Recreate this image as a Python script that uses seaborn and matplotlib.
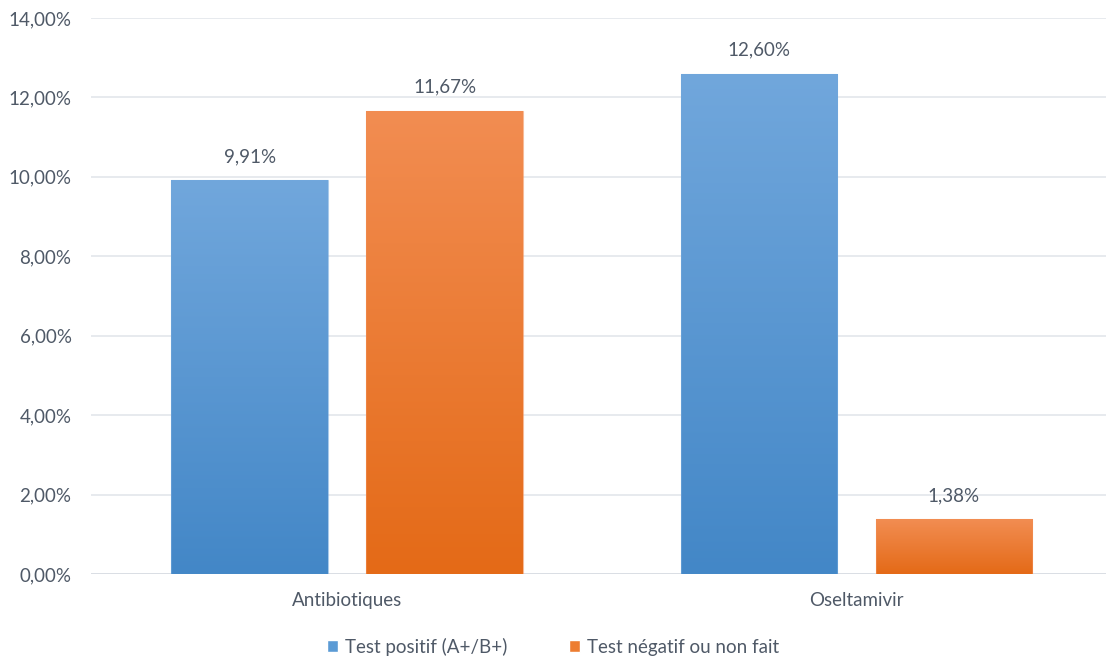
import numpy as np
import pandas as pd
import matplotlib
matplotlib.use("Agg")
import matplotlib.pyplot as plt
import matplotlib.colors as mcolors
from matplotlib.patches import Patch
import seaborn as sns

categories = ["Antibiotiques", "Oseltamivir"]
series = ["Test positif (A+/B+)", "Test négatif ou non fait"]
positive = [9.91, 12.60]
negative = [11.67, 1.38]
yticks = [0, 2, 4, 6, 8, 10, 12, 14]

df = pd.DataFrame({
    "cat": categories * 2,
    "serie": [series[0]] * 2 + [series[1]] * 2,
    "val": positive + negative,
})

sns.set_theme(style="white")
plt.rcParams["font.family"] = ["Lato", "DejaVu Sans"]

txt = "#4F5967"
fs = 13.5
grid_c = "#E3E6EB"
blue_top, blue_bot = "#71A7DC", "#4387C7"
orange_top, orange_bot = "#F28D52", "#E46A17"
palette = {series[0]: "#5B9BD5", series[1]: "#ED7D31"}

fig = plt.figure(figsize=(11.06, 6.6), dpi=100)
ax = fig.add_axes([91 / 1106, 1 - 574 / 660, 1 - 91 / 1106, (574 - 18) / 660])

sns.barplot(data=df, x="cat", y="val", hue="serie", palette=palette,
            width=0.766, gap=0.196, ax=ax, legend=False, errorbar=None,
            order=categories, hue_order=series)

ax.set_yticks(yticks)
ax.set_yticklabels([f"{v:.2f}".replace(".", ",") + "%" for v in yticks])
ax.yaxis.grid(True, color=grid_c, linewidth=1.2)
ax.set_axisbelow(True)
for s in ax.spines.values():
    s.set_visible(False)
ax.axhline(0, color="#D9DDE3", linewidth=1.3, zorder=1)
ax.tick_params(axis="y", length=0, pad=14, labelsize=fs, labelcolor=txt)
ax.tick_params(axis="x", length=0, pad=13, labelsize=fs, labelcolor=txt)
ax.set_xlabel("")
ax.set_ylabel("")

# gradient fill for bars
patches = [p for p in ax.patches]
for i, p in enumerate(patches):
    x0, y0 = p.get_x(), p.get_y()
    w, h = p.get_width(), p.get_height()
    is_blue = i < len(categories)
    top, bot = (blue_top, blue_bot) if is_blue else (orange_top, orange_bot)
    c1 = np.array(mcolors.to_rgb(top))
    c2 = np.array(mcolors.to_rgb(bot))
    t = np.linspace(0, 1, 256)[:, None]
    grad = (c1 * (1 - t) + c2 * t)[:, None, :]
    im = ax.imshow(grad, extent=[x0, x0 + w, y0, y0 + h], origin="upper",
                   aspect="auto", zorder=2)
    im.set_clip_path(p)
    p.set_facecolor("none")
    p.set_edgecolor(mcolors.to_rgba(top, 0.6))
    p.set_linewidth(0.8)
    p.set_zorder(3)
    val = h
    ax.annotate(f"{val:.2f}".replace(".", ",") + "%", (x0 + w / 2, y0 + h),
                xytext=(0, 11), textcoords="offset points", ha="center",
                va="bottom", fontsize=fs, color=txt)

ax.set_xlim(-0.503, 1.49)
ax.set_ylim(0, 14)

handles = [Patch(facecolor="#5B9BD5", label=series[0]),
           Patch(facecolor="#ED7D31", label=series[1])]
fig.legend(handles=handles, loc="center", bbox_to_anchor=(0.5, 1 - 647 / 660),
           ncol=2, frameon=False, fontsize=fs, labelcolor=txt,
           handlelength=0.6, handleheight=0.6, handletextpad=0.35,
           columnspacing=3.3)

fig.savefig("out.png", dpi=100)
